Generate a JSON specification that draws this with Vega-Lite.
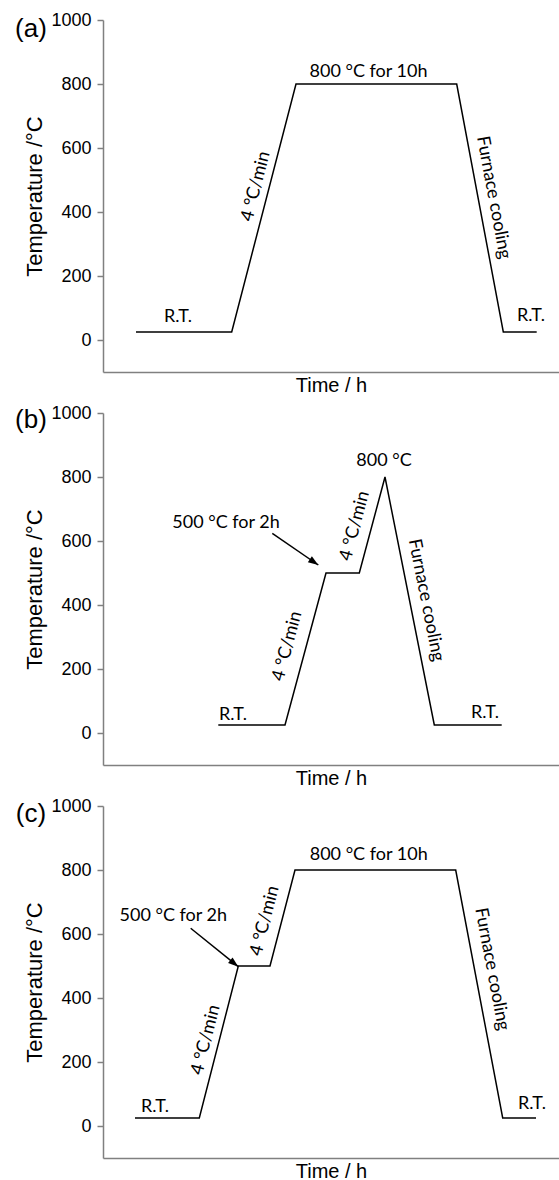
{
  "$schema": "https://vega.github.io/schema/vega-lite/v6.json",
  "padding": {"left": 15, "top": 11, "right": 0, "bottom": 0},
  "spacing": 9,
  "background": "white",
  "config": {
    "view": {"stroke": null},
    "axis": {"domainColor": "#808080", "domainWidth": 1.5, "tickColor": "#808080", "tickWidth": 1.5, "grid": false, "labelFont": "Liberation Sans", "labelFontSize": 18, "labelColor": "#000000", "titleFont": "Liberation Sans", "titleFontWeight": "normal", "titleColor": "#000000"},
    "axisX": {"labels": false, "ticks": false, "titleFontSize": 20, "titlePadding": 3},
    "axisY": {"tickSize": 6, "labelPadding": 6, "titleFontSize": 22, "titlePadding": 4, "format": "d"},
    "text": {"font": "Lato", "fontSize": 18, "color": "#000000"}
  },
  "datasets": {
    "lineA": [{"t": 33, "temp": 25}, {"t": 128.7, "temp": 25}, {"t": 193, "temp": 800}, {"t": 353.7, "temp": 800}, {"t": 400.3, "temp": 25}, {"t": 433.7, "temp": 25}],
    "lineB": [{"t": 115.3, "temp": 25}, {"t": 182, "temp": 25}, {"t": 223, "temp": 500}, {"t": 256.3, "temp": 500}, {"t": 282, "temp": 800}, {"t": 331.3, "temp": 25}, {"t": 398.7, "temp": 25}],
    "lineC": [{"t": 32, "temp": 25}, {"t": 96.3, "temp": 25}, {"t": 135.3, "temp": 500}, {"t": 167, "temp": 500}, {"t": 192, "temp": 800}, {"t": 352.7, "temp": 800}, {"t": 399.7, "temp": 25}, {"t": 433, "temp": 25}],
    "textA": [{"t": 75, "temp": 55, "label": "R.T."}, {"t": 265.5, "temp": 823, "label": "800 °C for 10h"}, {"t": 428, "temp": 58, "label": "R.T."}],
    "textB": [{"t": 130, "temp": 40, "label": "R.T."}, {"t": 382, "temp": 46, "label": "R.T."}, {"t": 281, "temp": 835, "label": "800 °C"}, {"t": 123, "temp": 641, "label": "500 °C for 2h"}],
    "textC": [{"t": 52, "temp": 45, "label": "R.T."}, {"t": 429, "temp": 52, "label": "R.T."}, {"t": 265.7, "temp": 831, "label": "800 °C for 10h"}, {"t": 70.3, "temp": 642, "label": "500 °C for 2h"}],
    "rampA": [{"t": 153, "temp": 480, "label": "4 °C/min"}],
    "rampB": [{"t": 184.5, "temp": 271, "label": "4 °C/min"}, {"t": 252, "temp": 647, "label": "4 °C/min"}],
    "rampC": [{"t": 103, "temp": 269, "label": "4 °C/min"}, {"t": 162, "temp": 641, "label": "4 °C/min"}],
    "coolA": [{"t": 390.3, "temp": 445, "label": "Furnace cooling"}],
    "coolB": [{"t": 322.8, "temp": 415, "label": "Furnace cooling"}],
    "coolC": [{"t": 388.7, "temp": 490, "label": "Furnace cooling"}],
    "arrowB": [{"t": 169.3, "temp": 624, "t2": 215.3, "temp2": 525}],
    "arrowC": [{"t": 87.7, "temp": 618, "t2": 135.3, "temp2": 498}],
    "panA": [{"t": -72, "temp": 972, "label": "(a)"}],
    "panB": [{"t": -72, "temp": 978, "label": "(b)"}],
    "panC": [{"t": -72, "temp": 974, "label": "(c)"}]
  },
  "vconcat": [
    {
      "width": 456, "height": 352,
      "encoding": {
        "x": {"field": "t", "type": "quantitative", "scale": {"domain": [0, 456], "nice": false, "zero": false}, "axis": {"title": "Time / h"}},
        "y": {"field": "temp", "type": "quantitative", "scale": {"domain": [-100, 1000], "nice": false, "zero": false}, "axis": {"title": "Temperature /°C", "values": [0, 200, 400, 600, 800, 1000]}}
      },
      "layer": [
        {"data": {"values": [{}]}, "mark": {"type": "rule", "color": "#808080", "strokeWidth": 1.5}, "encoding": {"x": {"datum": 0}, "x2": {"datum": 456}, "y": {"datum": 1000}}},
        {"data": {"name": "lineA"}, "mark": {"type": "line", "color": "#000000", "strokeWidth": 1.5}},
        {"data": {"name": "textA"}, "mark": {"type": "text", "align": "center", "baseline": "alphabetic"}, "encoding": {"text": {"field": "label"}}},
        {"data": {"name": "rampA"}, "mark": {"type": "text", "align": "center", "baseline": "middle", "angle": -75.5}, "encoding": {"text": {"field": "label"}}},
        {"data": {"name": "coolA"}, "mark": {"type": "text", "align": "center", "baseline": "middle", "angle": 79.4}, "encoding": {"text": {"field": "label"}}},
        {"data": {"name": "panA"}, "mark": {"type": "text", "align": "center", "baseline": "middle", "font": "Liberation Sans", "fontSize": 26}, "encoding": {"text": {"field": "label"}}}
      ]
    },
    {
      "width": 456, "height": 352,
      "encoding": {
        "x": {"field": "t", "type": "quantitative", "scale": {"domain": [0, 456], "nice": false, "zero": false}, "axis": {"title": "Time / h"}},
        "y": {"field": "temp", "type": "quantitative", "scale": {"domain": [-100, 1000], "nice": false, "zero": false}, "axis": {"title": "Temperature /°C", "values": [0, 200, 400, 600, 800, 1000]}}
      },
      "layer": [
        {"data": {"values": [{}]}, "mark": {"type": "rule", "color": "#808080", "strokeWidth": 1.5}, "encoding": {"x": {"datum": 0}, "x2": {"datum": 456}, "y": {"datum": 1000}}},
        {"data": {"name": "lineB"}, "mark": {"type": "line", "color": "#000000", "strokeWidth": 1.5}},
        {"data": {"name": "arrowB"}, "mark": {"type": "rule", "color": "#000000", "strokeWidth": 1.5}, "encoding": {"x2": {"field": "t2"}, "y2": {"field": "temp2"}}},
        {"data": {"name": "arrowB"}, "mark": {"type": "point", "shape": "M0,0L-1,-0.35L-1,0.35Z", "filled": true, "color": "#000000", "opacity": 1, "size": 420, "angle": 34.5}, "encoding": {"x": {"field": "t2", "type": "quantitative"}, "y": {"field": "temp2", "type": "quantitative"}}},
        {"data": {"name": "textB"}, "mark": {"type": "text", "align": "center", "baseline": "alphabetic"}, "encoding": {"text": {"field": "label"}}},
        {"data": {"name": "rampB"}, "mark": {"type": "text", "align": "center", "baseline": "middle", "angle": -75}, "encoding": {"text": {"field": "label"}}},
        {"data": {"name": "coolB"}, "mark": {"type": "text", "align": "center", "baseline": "middle", "angle": 78.7}, "encoding": {"text": {"field": "label"}}},
        {"data": {"name": "panB"}, "mark": {"type": "text", "align": "center", "baseline": "middle", "font": "Liberation Sans", "fontSize": 26}, "encoding": {"text": {"field": "label"}}}
      ]
    },
    {
      "width": 456, "height": 352,
      "encoding": {
        "x": {"field": "t", "type": "quantitative", "scale": {"domain": [0, 456], "nice": false, "zero": false}, "axis": {"title": "Time / h"}},
        "y": {"field": "temp", "type": "quantitative", "scale": {"domain": [-100, 1000], "nice": false, "zero": false}, "axis": {"title": "Temperature /°C", "values": [0, 200, 400, 600, 800, 1000]}}
      },
      "layer": [
        {"data": {"values": [{}]}, "mark": {"type": "rule", "color": "#808080", "strokeWidth": 1.5}, "encoding": {"x": {"datum": 0}, "x2": {"datum": 456}, "y": {"datum": 1000}}},
        {"data": {"name": "lineC"}, "mark": {"type": "line", "color": "#000000", "strokeWidth": 1.5}},
        {"data": {"name": "arrowC"}, "mark": {"type": "rule", "color": "#000000", "strokeWidth": 1.5}, "encoding": {"x2": {"field": "t2"}, "y2": {"field": "temp2"}}},
        {"data": {"name": "arrowC"}, "mark": {"type": "point", "shape": "M0,0L-1,-0.35L-1,0.35Z", "filled": true, "color": "#000000", "opacity": 1, "size": 420, "angle": 38.9}, "encoding": {"x": {"field": "t2", "type": "quantitative"}, "y": {"field": "temp2", "type": "quantitative"}}},
        {"data": {"name": "textC"}, "mark": {"type": "text", "align": "center", "baseline": "alphabetic"}, "encoding": {"text": {"field": "label"}}},
        {"data": {"name": "rampC"}, "mark": {"type": "text", "align": "center", "baseline": "middle", "angle": -75.5}, "encoding": {"text": {"field": "label"}}},
        {"data": {"name": "coolC"}, "mark": {"type": "text", "align": "center", "baseline": "middle", "angle": 79.3}, "encoding": {"text": {"field": "label"}}},
        {"data": {"name": "panC"}, "mark": {"type": "text", "align": "center", "baseline": "middle", "font": "Liberation Sans", "fontSize": 26}, "encoding": {"text": {"field": "label"}}}
      ]
    }
  ]
}
